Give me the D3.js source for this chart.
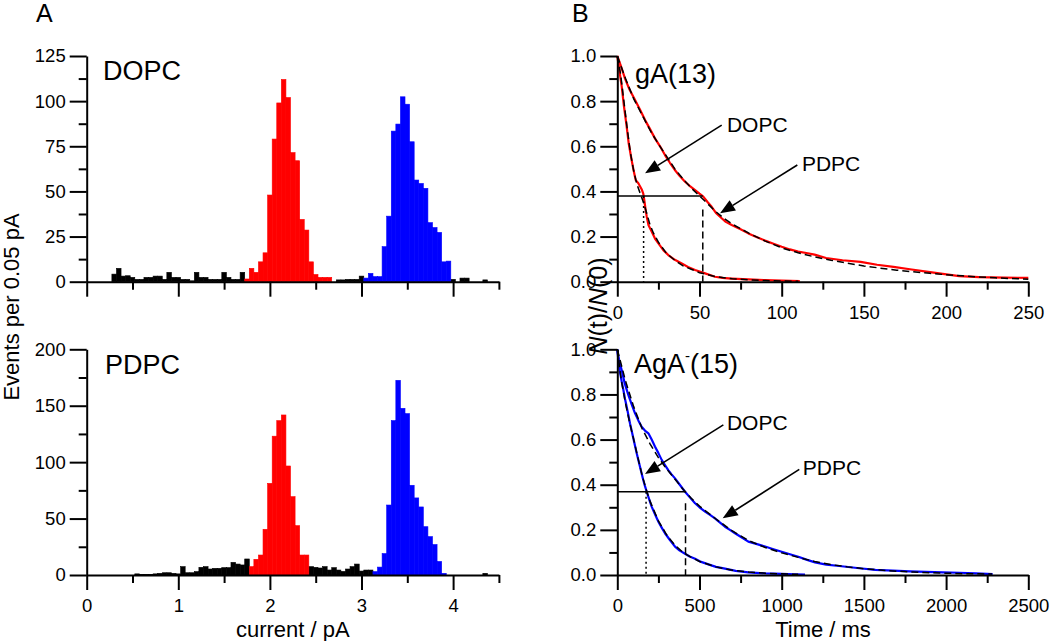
<!DOCTYPE html>
<html>
<head>
<meta charset="utf-8">
<script src="https://cdn.jsdelivr.net/npm/d3@7"></script>
<style>
  html, body { margin: 0; padding: 0; background: #fff; }
  svg { display: block; font-family: "Liberation Sans", Arial, sans-serif; }
</style>
</head>
<body>
<script>
// ---------------- DATA ----------------
// Panel A: histograms, [bin centre (pA), events per 0.05 pA]
const dopcBlack = [[0.30,4.2],[0.35,7.4],[0.40,3.1],[0.45,3.3],[0.50,2.4],[0.55,1.3],[0.60,1.3],[0.65,2.4],[0.70,2.4],[0.75,3.1],[0.80,3.1],[0.85,1.3],[0.90,5.2],[0.95,2.4],[1.00,2.4],[1.05,1.3],[1.10,1.3],[1.15,0.5],[1.20,5.2],[1.25,2.4],[1.30,2.4],[1.35,1.3],[1.40,1.3],[1.45,1.3],[1.50,5.2],[1.55,2.4],[1.60,1.3],[1.65,1.3],[1.70,5.2],
  [2.75,1],[2.80,1],[2.85,1.3],[2.90,1.3],[2.95,1.3],[3.00,3.1],[4.00,1.3],[4.10,2],[4.15,2],[4.35,1]];
const dopcRed = [[1.75,1.5],[1.80,7.4],[1.85,5.2],[1.90,11],[1.95,16],[2.00,48],[2.05,79],[2.10,99],[2.15,112],[2.20,102],[2.25,71.5],[2.30,67],[2.35,34.5],[2.40,28.6],[2.45,11],[2.50,4],[2.55,2.4],[2.60,2.4],[2.65,2.4]];
const dopcBlue = [[3.05,2],[3.10,4.6],[3.15,2.8],[3.20,2.8],[3.25,19.4],[3.30,36.3],[3.35,83.4],[3.40,87.3],[3.45,102.4],[3.50,98.3],[3.55,77.5],[3.60,56.3],[3.65,54.4],[3.70,51.7],[3.75,32.7],[3.80,30],[3.85,27.3],[3.90,11],[3.95,11.4]];

const pdpcBlack = [[0.55,1],[0.60,0.5],[0.65,0.5],[0.70,0.5],[0.75,1],[0.80,1.5],[0.85,2],[0.90,2],[0.95,1.5],[1.00,1],[1.05,7.4],[1.10,2],[1.15,2],[1.20,3],[1.25,6.8],[1.30,7.4],[1.35,5.3],[1.40,5.9],[1.45,5.9],[1.50,6.5],[1.55,6.5],[1.60,11.2],[1.65,9.7],[1.70,8.9],[1.75,14.2],
  [2.45,7.4],[2.50,6.8],[2.55,6.2],[2.60,7.4],[2.65,4.4],[2.70,6.5],[2.75,4.4],[2.80,3.2],[2.85,5.3],[2.90,7.4],[2.95,9.7],[3.00,3.5],[3.05,4.4],[3.10,4.4],[4.35,1.5]];
const pdpcRed = [[1.80,7.4],[1.85,13.9],[1.90,17.7],[1.95,40.5],[2.00,81.2],[2.05,123],[2.10,136.8],[2.15,141.8],[2.20,96.6],[2.25,69.4],[2.30,43.7],[2.35,17.7],[2.40,17.7]];
const pdpcBlue = [[3.15,3],[3.20,7],[3.25,19],[3.30,62],[3.35,136.8],[3.40,172.5],[3.45,147.7],[3.50,143],[3.55,79.5],[3.60,68.3],[3.65,60.3],[3.70,42.8],[3.75,34],[3.80,27],[3.85,12],[3.90,1.5]];

// Panel B: survival curves, [time (ms), N(t)/N(0)]
const gaDopc = [[0,1],[1,0.95],[2.7,0.864],[4,0.78],[5.7,0.687],[7,0.61],[8.7,0.539],[10,0.49],[11.2,0.45],[12.8,0.436],[14.8,0.41],[15.8,0.39],[16.4,0.362],[17.2,0.32],[17.9,0.288],[19,0.25],[20.9,0.222],[23,0.19],[25,0.17],[28,0.14],[31,0.118],[35,0.097],[39.2,0.081],[43,0.065],[47.3,0.052],[53.4,0.037],[59.4,0.022],[64,0.017],[69.6,0.014],[79.7,0.01],[89.9,0.007],[100,0.005],[111,0.003]];
const gaDopcFit = [[0,1],[2,0.92],[4,0.8],[6,0.68],[8,0.57],[10,0.49],[12,0.43],[14,0.39],[16,0.35],[18,0.3],[20,0.25],[22,0.215],[25,0.175],[30,0.125],[35,0.095],[40,0.07],[45,0.055],[50,0.04],[60,0.022],[70,0.013],[80,0.008],[90,0.005],[100,0.003],[110,0.002]];
const gaPdpc = [[0,1],[2,0.96],[4.7,0.9],[7.5,0.85],[10.8,0.805],[14,0.76],[16.9,0.716],[20,0.675],[22.9,0.635],[26,0.6],[29,0.561],[32,0.527],[35,0.495],[38,0.468],[41.2,0.443],[44,0.425],[47.3,0.406],[50,0.39],[52.3,0.377],[55,0.352],[57.4,0.332],[60,0.305],[63.5,0.281],[66,0.265],[69.6,0.251],[75,0.232],[79.7,0.214],[85,0.197],[89.9,0.182],[95,0.168],[100,0.155],[105,0.143],[110,0.133],[115,0.127],[120,0.12],[127,0.105],[137,0.095],[148,0.088],[158,0.075],[168,0.066],[178,0.055],[188,0.045],[198,0.035],[208,0.025],[220,0.02],[235,0.018],[250,0.017]];
const gaPdpcFit = [[0,1],[5,0.9],[10,0.81],[15,0.74],[20,0.67],[25,0.61],[30,0.555],[35,0.5],[40,0.455],[45,0.415],[50,0.38],[55,0.345],[60,0.31],[65,0.28],[70,0.255],[80,0.215],[90,0.18],[100,0.15],[110,0.128],[120,0.11],[130,0.095],[140,0.082],[150,0.07],[160,0.06],[170,0.051],[180,0.044],[190,0.037],[200,0.031],[210,0.026],[220,0.021],[230,0.017],[240,0.014],[250,0.011]];

const agaDopc = [[0,1],[2,0.987],[8,0.94],[16,0.9],[26,0.86],[37,0.82],[47,0.78],[57,0.746],[67,0.71],[77,0.672],[87,0.64],[97.5,0.606],[108,0.572],[118,0.539],[128,0.51],[138,0.48],[148,0.45],[158,0.421],[168,0.395],[179,0.369],[194,0.335],[209,0.303],[230,0.268],[250,0.236],[270,0.21],[290,0.185],[320,0.155],[351,0.126],[380,0.108],[412,0.094],[440,0.082],[473,0.072],[510,0.058],[554,0.047],[600,0.036],[655,0.028],[720,0.018],[797,0.012],[900,0.007],[1000,0.005],[1080,0.003],[1142,0.002]];
const agaDopcFit = [[0,1],[25,0.86],[50,0.76],[75,0.675],[100,0.6],[125,0.52],[150,0.445],[175,0.38],[200,0.325],[250,0.24],[300,0.178],[350,0.132],[400,0.1],[450,0.078],[500,0.06],[600,0.036],[700,0.021],[800,0.013],[900,0.008],[1000,0.005],[1100,0.003]];
const agaPdpc = [[0,1],[2,0.987],[10,0.955],[26.6,0.908],[45,0.85],[67,0.798],[88,0.755],[108,0.716],[128,0.685],[148,0.657],[168,0.64],[189,0.628],[209,0.6],[229,0.569],[250,0.54],[270,0.51],[290,0.487],[310,0.465],[330,0.446],[351,0.428],[380,0.4],[412,0.369],[440,0.345],[473,0.318],[500,0.3],[534,0.281],[564,0.266],[594,0.251],[625,0.232],[655,0.214],[685,0.2],[716,0.185],[760,0.165],[797,0.148],[850,0.137],[899,0.126],[950,0.114],[1000,0.103],[1050,0.092],[1101,0.081],[1150,0.068],[1203,0.056],[1271,0.046],[1350,0.04],[1473,0.03],[1570,0.023],[1676,0.019],[1780,0.016],[1878,0.014],[1980,0.012],[2081,0.01],[2180,0.007],[2283,0.004]];
const agaPdpcFit = [[0,1],[50,0.86],[100,0.745],[150,0.65],[200,0.58],[250,0.52],[300,0.47],[350,0.425],[400,0.38],[450,0.34],[500,0.305],[600,0.248],[700,0.195],[800,0.152],[900,0.122],[1000,0.098],[1100,0.078],[1200,0.06],[1300,0.046],[1400,0.036],[1500,0.028],[1600,0.022],[1700,0.017],[1800,0.013],[1900,0.01],[2000,0.008],[2100,0.006],[2200,0.005],[2280,0.004]];

// 1/e crossing markers: [level, t_DOPC, t_PDPC, top of dashed drop]
const gaMark = [0.38, 16, 52, 0.32];
const agaMark = [0.369, 175, 415, 0.318];

// Tick values
const histXMajor = [0, 1, 2, 3, 4];
const histXMinor = [0.5, 1.5, 2.5, 3.5, 4.5];
const dopcYMajor = [0, 25, 50, 75, 100, 125];
const dopcYMinor = [12.5, 37.5, 62.5, 87.5, 112.5];
const pdpcYMajor = [0, 50, 100, 150, 200];
const pdpcYMinor = [25, 75, 125, 175];
const gaXMajor = [0, 50, 100, 150, 200, 250];
const gaXMinor = [25, 75, 125, 175, 225];
const agaXMajor = [0, 500, 1000, 1500, 2000, 2500];
const agaXMinor = [250, 750, 1250, 1750, 2250];
const survYMajor = [0, 0.2, 0.4, 0.6, 0.8, 1.0];
const survYMinor = [0.1, 0.3, 0.5, 0.7, 0.9];

// Annotation arrows: [tail t, tail v, head t, head v, label t, label v]
const gaArrowDopc = [63.5, 0.694, 16.9, 0.48, 66.7, 0.664];
const gaArrowPdpc = [109.5, 0.517, 62.5, 0.303, 112.3, 0.492];
const agaArrowDopc = [645, 0.665, 168.5, 0.447, 667, 0.642];
const agaArrowPdpc = [1107, 0.468, 641, 0.251, 1128, 0.443];

// ---------------- DRAWING ----------------
const W = 1050, H = 641;
const svg = d3.select("body").append("svg").attr("width", W).attr("height", H);

const RED = "#ff0000", BLUE = "#0000ff";
const TICKFONT = 18.5;

const xA = d3.scaleLinear().domain([0, 4.5]).range([86.7, 498.9]);
const yA1 = d3.scaleLinear().domain([0, 125]).range([281.7, 56]);
const yA2 = d3.scaleLinear().domain([0, 200]).range([575, 349.3]);
const xB1 = d3.scaleLinear().domain([0, 250]).range([617.3, 1028.3]);
const xB2 = d3.scaleLinear().domain([0, 2500]).range([617.3, 1028.3]);
const yB1 = d3.scaleLinear().domain([0, 1]).range([281.7, 56]);
const yB2 = d3.scaleLinear().domain([0, 1]).range([575, 349.3]);

function hist(data, color, x, y) {
  const g = svg.append("g");
  g.selectAll("rect").data(data).join("rect")
    .attr("x", d => x(d[0] - 0.025))
    .attr("width", d => x(d[0] + 0.025) - x(d[0] - 0.025))
    .attr("y", d => y(d[1]))
    .attr("height", d => y(0) - y(d[1]))
    .attr("fill", color)
    .attr("stroke", color)
    .attr("stroke-width", 0.6);
}

function styleAxis(g) {
  g.selectAll("path.domain").attr("stroke", "#000").attr("stroke-width", 2);
  g.selectAll(".tick line").attr("stroke", "#000").attr("stroke-width", 2);
  g.selectAll(".tick text").attr("font-size", TICKFONT).attr("fill", "#000")
    .attr("font-family", "Liberation Sans, Arial, sans-serif");
}

function xAxis(x, y0, major, minor, fmt, showLabels) {
  const gMin = svg.append("g").attr("transform", `translate(0,${y0})`)
    .call(d3.axisBottom(x).tickValues(minor).tickSize(8).tickSizeOuter(0).tickFormat(""));
  gMin.select("path.domain").remove();
  styleAxis(gMin);
  const g = svg.append("g").attr("transform", `translate(0,${y0})`)
    .call(d3.axisBottom(x).tickValues(major).tickSize(15).tickSizeOuter(0).tickPadding(9)
      .tickFormat(showLabels ? fmt : ""));
  styleAxis(g);
}

function yAxis(y, x0, major, minor, fmt) {
  const gMin = svg.append("g").attr("transform", `translate(${x0},0)`)
    .call(d3.axisLeft(y).tickValues(minor).tickSize(8).tickSizeOuter(0).tickFormat(""));
  gMin.select("path.domain").remove();
  styleAxis(gMin);
  const g = svg.append("g").attr("transform", `translate(${x0},0)`)
    .call(d3.axisLeft(y).tickValues(major).tickSize(17).tickSizeOuter(0).tickPadding(4).tickFormat(fmt));
  styleAxis(g);
}

// ---- Panel A ----
hist(dopcBlack, "#000", xA, yA1);
hist(dopcRed, RED, xA, yA1);
hist(dopcBlue, BLUE, xA, yA1);
hist(pdpcBlack, "#000", xA, yA2);
hist(pdpcRed, RED, xA, yA2);
hist(pdpcBlue, BLUE, xA, yA2);

xAxis(xA, 281.7, histXMajor, histXMinor, d3.format("d"), false);
xAxis(xA, 575, histXMajor, histXMinor, d3.format("d"), true);
yAxis(yA1, 86.7, dopcYMajor, dopcYMinor, d3.format("d"));
yAxis(yA2, 86.7, pdpcYMajor, pdpcYMinor, d3.format("d"));

// ---- Panel B ----
const fmt1 = d3.format(".1f");
function survPanel(x, y, curves, fits, color, mark, arrows) {
  const line = d3.line().x(d => x(d[0])).y(d => y(d[1]));
  curves.forEach(c => svg.append("path").datum(c).attr("d", line)
    .attr("fill", "none").attr("stroke", color).attr("stroke-width", 2.2).attr("stroke-linejoin", "round"));
  fits.forEach(c => svg.append("path").datum(c).attr("d", line)
    .attr("fill", "none").attr("stroke", "#000").attr("stroke-width", 1.5).attr("stroke-dasharray", "7,4"));
  const [lev, t1, t2, top2] = mark;
  svg.append("line").attr("x1", x(0)).attr("x2", x(t2)).attr("y1", y(lev)).attr("y2", y(lev))
    .attr("stroke", "#000").attr("stroke-width", 1.5);
  svg.append("line").attr("x1", x(t1)).attr("x2", x(t1)).attr("y1", y(lev)).attr("y2", y(0))
    .attr("stroke", "#000").attr("stroke-width", 1.5).attr("stroke-dasharray", "2,3");
  svg.append("line").attr("x1", x(t2)).attr("x2", x(t2)).attr("y1", y(top2)).attr("y2", y(0))
    .attr("stroke", "#000").attr("stroke-width", 1.5).attr("stroke-dasharray", "7,4");
  arrows.forEach(([a, label]) => {
    const [tx, tv, hx, hv, lx, lv] = a;
    const x1 = x(tx), y1 = y(tv), x2 = x(hx), y2 = y(hv);
    const ang = Math.atan2(y2 - y1, x2 - x1);
    const L = 15, Wd = 6;
    const bx = x2 - L * Math.cos(ang), by = y2 - L * Math.sin(ang);
    svg.append("line").attr("x1", x1).attr("y1", y1).attr("x2", bx).attr("y2", by)
      .attr("stroke", "#000").attr("stroke-width", 1.6);
    const px = -Math.sin(ang), py = Math.cos(ang);
    svg.append("polygon")
      .attr("points", [[x2, y2], [bx + Wd * px, by + Wd * py], [bx - Wd * px, by - Wd * py]].map(p => p.join(",")).join(" "))
      .attr("fill", "#000");
    svg.append("text").attr("x", x(lx)).attr("y", y(lv)).attr("font-size", 21).text(label);
  });
}

survPanel(xB1, yB1, [gaDopc, gaPdpc], [gaDopcFit, gaPdpcFit], RED, gaMark,
  [[gaArrowDopc, "DOPC"], [gaArrowPdpc, "PDPC"]]);
survPanel(xB2, yB2, [agaDopc, agaPdpc], [agaDopcFit, agaPdpcFit], BLUE, agaMark,
  [[agaArrowDopc, "DOPC"], [agaArrowPdpc, "PDPC"]]);

xAxis(xB1, 281.7, gaXMajor, gaXMinor, d3.format("d"), true);
xAxis(xB2, 575, agaXMajor, agaXMinor, d3.format("d"), true);
yAxis(yB1, 617.3, survYMajor, survYMinor, fmt1);
yAxis(yB2, 617.3, survYMajor, survYMinor, fmt1);

// ---- Texts ----
svg.append("text").attr("x", 36).attr("y", 22).attr("font-size", 25).text("A");
svg.append("text").attr("x", 572).attr("y", 22).attr("font-size", 25).text("B");
svg.append("text").attr("x", 103).attr("y", 80).attr("font-size", 27).text("DOPC");
svg.append("text").attr("x", 105).attr("y", 374).attr("font-size", 27).text("PDPC");
svg.append("text").attr("x", 635).attr("y", 83).attr("font-size", 27).text("gA(13)");
const ag = svg.append("text").attr("x", 634).attr("y", 373).attr("font-size", 27);
ag.append("tspan").text("AgA");
ag.append("tspan").attr("font-size", 15).attr("dy", -12).text("-");
ag.append("tspan").attr("dy", 12).text("(15)");

svg.append("text").attr("x", 292.8).attr("y", 637).attr("font-size", 22).attr("text-anchor", "middle").text("current / pA");
svg.append("text").attr("x", 823).attr("y", 637).attr("font-size", 22).attr("text-anchor", "middle").text("Time / ms");
svg.append("text").attr("transform", "translate(18.5,307) rotate(-90)").attr("font-size", 22)
  .attr("text-anchor", "middle").text("Events per 0.05 pA");
const nt = svg.append("text").attr("transform", "translate(607,306) rotate(-90)").attr("font-size", 25)
  .attr("text-anchor", "middle");
nt.append("tspan").attr("font-style", "italic").text("N");
nt.append("tspan").text("(t)/");
nt.append("tspan").attr("font-style", "italic").text("N");
nt.append("tspan").text("(0)");
</script>
</body>
</html>
